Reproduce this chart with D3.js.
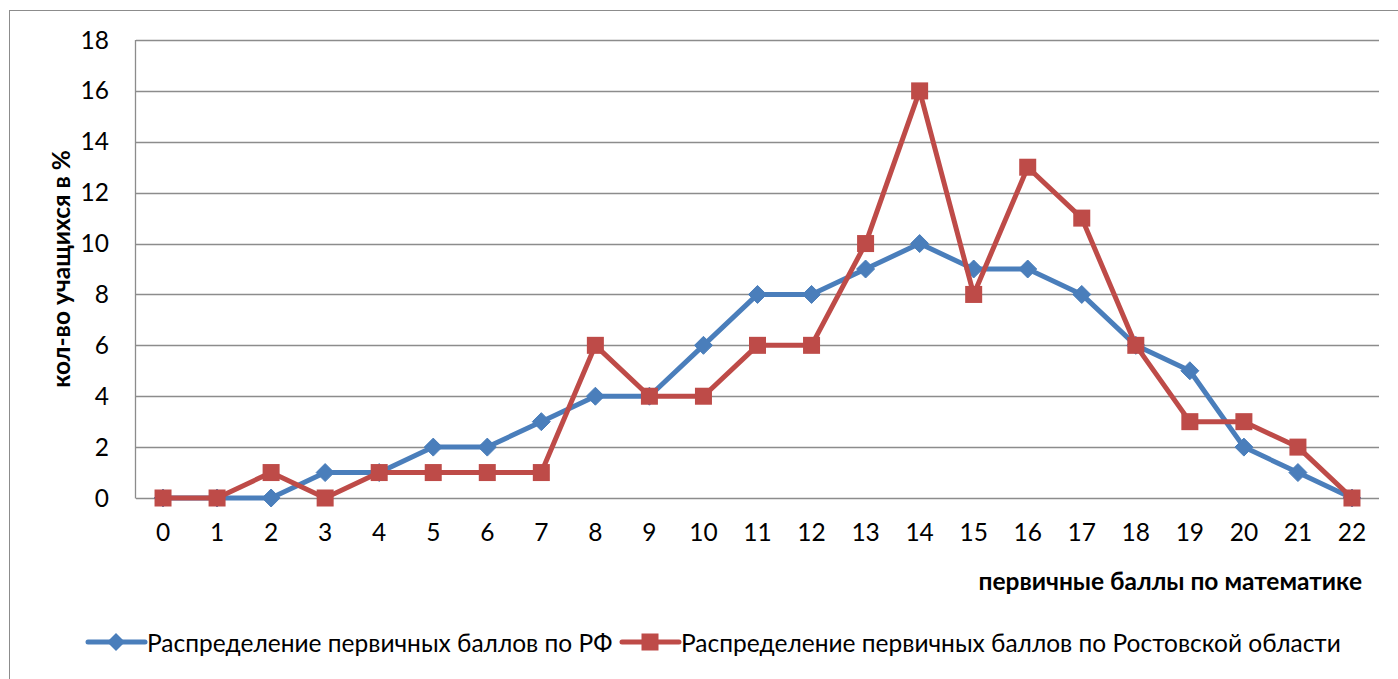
<!DOCTYPE html>
<html><head><meta charset="utf-8">
<script src="https://cdn.jsdelivr.net/npm/d3@7"></script>
<style>body{margin:0;background:#fff}svg{display:block}text{font-family:Lato,"Noto Sans",sans-serif}</style>
</head><body><svg id="c" width="1398" height="679"></svg>
<script>
const categories = ["0","1","2","3","4","5","6","7","8","9","10","11","12","13","14","15","16","17","18","19","20","21","22"];
const rfValues = [0,0,0,1,1,2,2,3,4,4,6,8,8,9,10,9,9,8,6,5,2,1,0];
const rostovValues = [0,0,1,0,1,1,1,1,6,4,4,6,6,10,16,8,13,11,6,3,3,2,0];
const yTicks = [0,2,4,6,8,10,12,14,16,18];
const seriesNames = ["Распределение первичных баллов по РФ","Распределение первичных баллов по Ростовской области"];
const xTitle = "первичные баллы по математике";
const yTitle = "кол-во учащихся в %";

const svg = d3.select("#c");
const blue = "#4A7EBB", red = "#BE4B48";
const fs = 24.5;
svg.append("rect").attr("x",9.5).attr("y",10.5).attr("width",1400).attr("height",700).attr("fill","#fff").attr("stroke","#8c8c8c").attr("stroke-width",1);

const x = d3.scaleBand().domain(categories).range([136,1379]);
const y = d3.scaleLinear().domain([0,18]).range([498,40]);

svg.append("g").selectAll("line").data(yTicks).join("line")
  .attr("x1",136).attr("x2",1379).attr("y1",d=>Math.round(y(d))+0.5).attr("y2",d=>Math.round(y(d))+0.5)
  .attr("stroke","#8c8c8c").attr("stroke-width",1.3);
svg.append("line").attr("x1",135.5).attr("x2",135.5).attr("y1",40).attr("y2",498.5).attr("stroke","#8c8c8c").attr("stroke-width",1.3);

svg.append("g").selectAll("text").data(yTicks).join("text")
  .attr("x",109).attr("y",d=>y(d)).attr("dy","0.35em").attr("text-anchor","end")
  .attr("font-size",fs).text(d=>d);
svg.append("g").selectAll("text").data(categories).join("text")
  .attr("x",d=>x(d)+x.bandwidth()/2).attr("y",532).attr("dy","0.35em").attr("text-anchor","middle")
  .attr("font-size",fs).text(d=>d);

svg.append("text").attr("transform","translate(61,269) rotate(-90)").attr("text-anchor","middle").attr("dy","0.35em")
  .attr("font-size",fs).attr("font-weight","bold").text(yTitle);
svg.append("text").attr("x",1362).attr("y",581).attr("text-anchor","end").attr("dy","0.35em")
  .attr("font-size",fs).attr("font-weight","bold").text(xTitle);

const cx = (d,i)=>x(categories[i])+x.bandwidth()/2;
const line = d3.line().x((d,i)=>cx(d,i)).y(d=>y(d));
svg.append("path").datum(rfValues).attr("d",line).attr("fill","none").attr("stroke",blue).attr("stroke-width",5).attr("stroke-linejoin","round");
svg.append("g").selectAll("path").data(rfValues).join("path")
  .attr("transform",(d,i)=>`translate(${cx(d,i)},${y(d)})`)
  .attr("d","M0,-9L9,0L0,9L-9,0Z").attr("fill",blue).attr("stroke",blue).attr("stroke-width",1);
svg.append("path").datum(rostovValues).attr("d",line).attr("fill","none").attr("stroke",red).attr("stroke-width",5).attr("stroke-linejoin","round");
svg.append("g").selectAll("rect").data(rostovValues).join("rect")
  .attr("x",(d,i)=>cx(d,i)-8.5).attr("y",d=>y(d)-8.5).attr("width",17).attr("height",17).attr("fill",red);

// legend
const lg = svg.append("g");
const leg = [{name:seriesNames[0],c:blue,x0:88,shape:"d"},{name:seriesNames[1],c:red,x0:622,shape:"s"}];
leg.forEach(l=>{
  lg.append("line").attr("x1",l.x0).attr("x2",l.x0+57).attr("y1",642).attr("y2",642).attr("stroke",l.c).attr("stroke-width",5).attr("stroke-linecap","round");
  if(l.shape==="d") lg.append("path").attr("transform",`translate(${l.x0+28},642)`).attr("d","M0,-9L9,0L0,9L-9,0Z").attr("fill",l.c);
  else lg.append("rect").attr("x",l.x0+28-8.5).attr("y",633.5).attr("width",17).attr("height",17).attr("fill",l.c);
  lg.append("text").attr("x",l.x0+59).attr("y",643).attr("dy","0.35em").attr("font-size",fs).text(l.name);
});
</script></body></html>
